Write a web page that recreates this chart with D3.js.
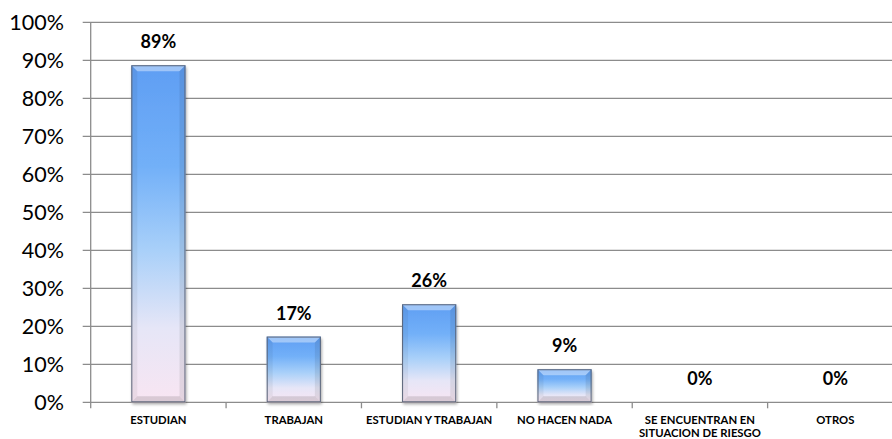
<!DOCTYPE html>
<html><head><meta charset="utf-8">
<script src="https://cdn.jsdelivr.net/npm/d3@7"></script>
<style>html,body{margin:0;padding:0;background:#fff;overflow:hidden}</style>
</head><body>
<svg id="c" width="892" height="439"></svg>
<script>
const categories = ["ESTUDIAN","TRABAJAN","ESTUDIAN Y TRABAJAN","NO HACEN NADA","SE ENCUENTRAN EN|SITUACION DE RIESGO","OTROS"];
const values = [0.887, 0.173, 0.258, 0.087, 0, 0];
const valueLabels = ["89%","17%","26%","9%","0%","0%"];
const yTicks = [0,0.1,0.2,0.3,0.4,0.5,0.6,0.7,0.8,0.9,1.0];

(function(){
const svg = d3.select("#c");
const pL = 90.7, pR = 903, pT = 22.3, pB = 402.3;
const x = d3.scaleBand().domain(categories).range([pL, pR]).paddingInner(0.6).paddingOuter(0.3);
const y = d3.scaleLinear().domain([0,1]).range([pB, pT]);

const defs = svg.append("defs");
const g = defs.append("linearGradient").attr("id","bg").attr("x1",0).attr("y1",0).attr("x2",0).attr("y2",1);
[[0,"#5f9ef3"],[0.3,"#72b0f8"],[0.55,"#a9d0f9"],[0.78,"#e6e6f7"],[1,"#f8e5f2"]].forEach(([o,c])=>g.append("stop").attr("offset",o).attr("stop-color",c));
const f = defs.append("filter").attr("id","sh").attr("x","-20%").attr("y","-5%").attr("width","140%").attr("height","115%");
f.append("feGaussianBlur").attr("in","SourceAlpha").attr("stdDeviation",1.5);
f.append("feOffset").attr("dx",1).attr("dy",1.5).attr("result","b");
f.append("feComponentTransfer").append("feFuncA").attr("type","linear").attr("slope",0.35);
const m = f.append("feMerge"); m.append("feMergeNode"); m.append("feMergeNode").attr("in","SourceGraphic");

svg.append("g").selectAll("line").data(yTicks).join("line")
  .attr("x1", pL-8).attr("x2", 892).attr("y1", d=>y(d)).attr("y2", d=>y(d))
  .attr("stroke","#8c8c8c").attr("stroke-width",1.3);
svg.append("line").attr("x1",pL).attr("x2",pL).attr("y1",pT).attr("y2",pB+6)
  .attr("stroke","#8c8c8c").attr("stroke-width",1.3);
const bounds = categories.map((c,i)=>pL + i*(pR-pL)/categories.length);
svg.append("g").selectAll("line").data(bounds.slice(1)).join("line")
  .attr("x1",d=>d).attr("x2",d=>d).attr("y1",pB).attr("y2",pB+6)
  .attr("stroke","#8c8c8c").attr("stroke-width",1.3);

svg.append("g").selectAll("text").data(yTicks).join("text")
  .attr("x", 64).attr("y", d=>y(d)).attr("dy","0.36em").attr("text-anchor","end")
  .attr("font-family","Lato, 'Open Sans', sans-serif").attr("font-size",21.5).attr("fill","#000")
  .text(d=>Math.round(d*100)+"%");

const bars = svg.append("g").selectAll("g").data(values.map((v,i)=>({v,c:categories[i]}))).join("g");
bars.each(function(d){
  if (d.v <= 0) return;
  const gg = d3.select(this);
  const x0 = x(d.c), w = x.bandwidth(), y0 = y(d.v), h = y(0)-y(d.v);
  const b = Math.min(6, h/3);
  gg.append("rect").attr("x",x0).attr("y",y0).attr("width",w).attr("height",h)
    .attr("fill","url(#bg)").attr("filter","url(#sh)");
  gg.append("polygon").attr("points",[[x0,y0],[x0+w,y0],[x0+w-b,y0+b],[x0+b,y0+b]].join(" "))
    .attr("fill","#ffffff").attr("fill-opacity",0.4);
  gg.append("polygon").attr("points",[[x0,y0],[x0+b,y0+b],[x0+b,y0+h-b],[x0,y0+h]].join(" "))
    .attr("fill","#000").attr("fill-opacity",0.05);
  gg.append("polygon").attr("points",[[x0+w,y0],[x0+w-b,y0+b],[x0+w-b,y0+h-b],[x0+w,y0+h]].join(" "))
    .attr("fill","#000").attr("fill-opacity",0.08);
  gg.append("polygon").attr("points",[[x0,y0+h],[x0+b,y0+h-b],[x0+w-b,y0+h-b],[x0+w,y0+h]].join(" "))
    .attr("fill","#000").attr("fill-opacity",0.12);
  gg.append("rect").attr("x",x0+0.5).attr("y",y0+0.5).attr("width",w-1).attr("height",h-1)
    .attr("fill","none").attr("stroke","#5a6478").attr("stroke-width",1);
});
svg.append("g").selectAll("text").data(values).join("text")
  .attr("x",(d,i)=>x(categories[i])+x.bandwidth()/2).attr("y",d=>y(d)-17)
  .attr("text-anchor","middle").attr("font-family","Lato, sans-serif").attr("font-weight","bold")
  .attr("font-size",18).attr("fill","#000").text((d,i)=>valueLabels[i]);

const cl = svg.append("g").selectAll("text").data(categories).join("text")
  .attr("x",d=>x(d)+x.bandwidth()/2).attr("y",pB+21.5)
  .attr("text-anchor","middle").attr("font-family","Lato, sans-serif").attr("font-weight","bold")
  .attr("font-size",11.3).attr("fill","#000");
cl.each(function(d){
  const parts = d.split("|");
  const t = d3.select(this);
  parts.forEach((p,i)=>t.append("tspan").attr("x",x(d)+x.bandwidth()/2).attr("dy",i?"1.15em":0).text(p));
});
})();
</script>
</body></html>
